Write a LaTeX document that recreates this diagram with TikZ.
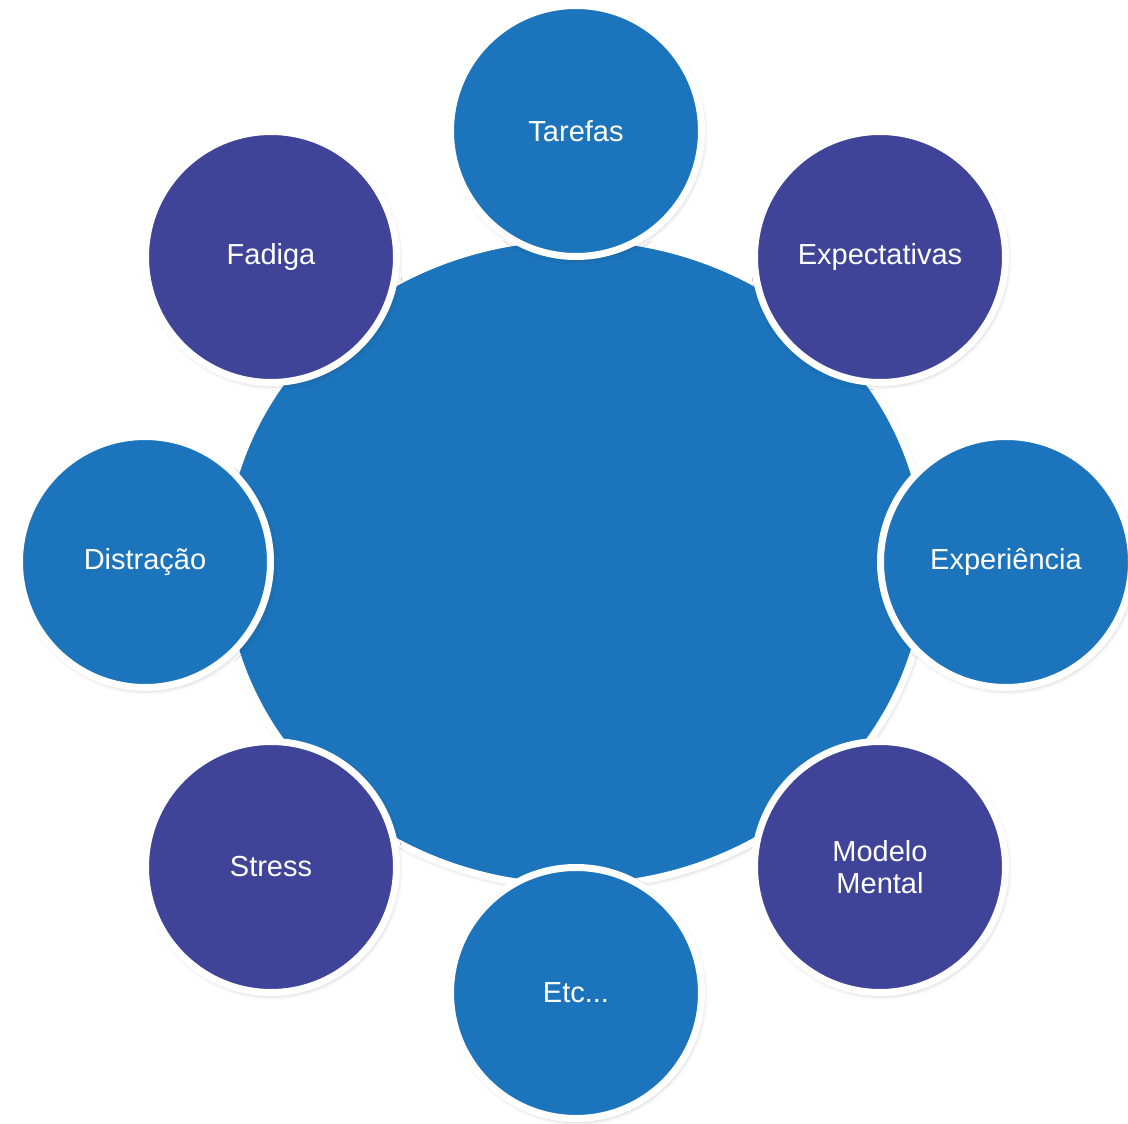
\documentclass[tikz,border=0pt]{standalone}
\usepackage{fontspec}
\setmainfont{Liberation Sans}
\usetikzlibrary{shapes.geometric,shadows.blur}
\definecolor{cblue}{RGB}{28,117,188}
\definecolor{cpurple}{RGB}{63,68,153}
\tikzset{
  softshadow/.style={blur shadow={shadow xshift=1.5pt,shadow yshift=-2.5pt,shadow blur radius=5pt,shadow opacity=28}},
  bubble/.style={circle,draw=white,line width=7pt,minimum size=251pt,inner sep=0pt,
    text=white,align=center,font=\fontsize{29}{32.6}\selectfont,softshadow},
  bluebub/.style={bubble,fill=cblue},
  purpbub/.style={bubble,fill=cpurple},
  corestyle/.style={ellipse,draw=white,line width=7pt,fill=cblue,minimum width=705pt,
    minimum height=649pt,inner sep=0pt,softshadow}
}
\begin{document}
\begin{tikzpicture}[x=1pt,y=-1pt]
\useasboundingbox (0,0) rectangle (1128,1124);
\clip (0,0) rectangle (1128,1124);
\node[corestyle] (core) at (575,562) {};
\node[bluebub] (tarefas) at (576,131) {Tarefas};
\node[purpbub] (expect) at (880,257) {Expectativas};
\node[bluebub] (exper) at (1006,562) {Experiência};
\node[purpbub] (modelo) at (880,867) {Modelo\\Mental};
\node[bluebub] (etc) at (576,993) {Etc...};
\node[purpbub] (stress) at (271,867) {Stress};
\node[bluebub] (distr) at (145,562) {Distração};
\node[purpbub] (fadiga) at (271,257) {Fadiga};
\end{tikzpicture}
\end{document}
